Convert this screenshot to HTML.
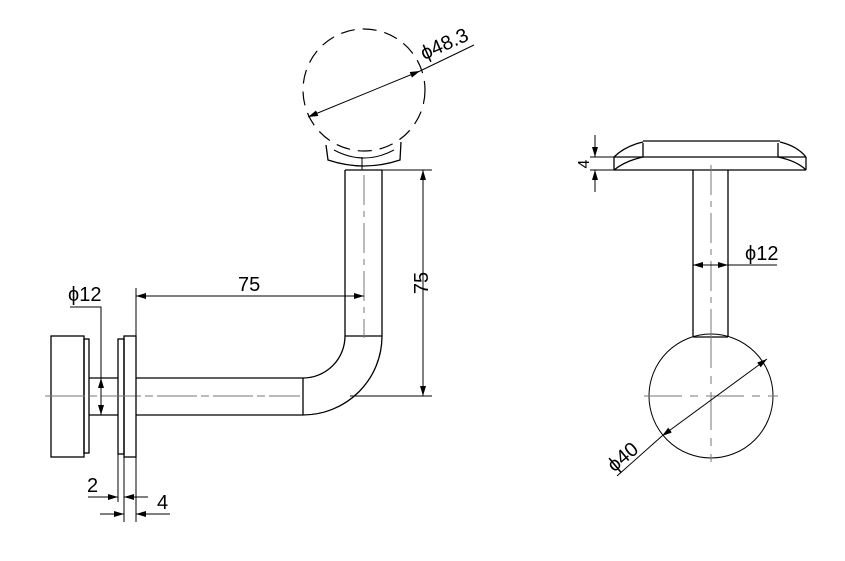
<!DOCTYPE html>
<html><head><style>body{margin:0;background:#fff}svg{display:block}</style></head><body>
<svg width="845" height="561" viewBox="0 0 845 561" xmlns="http://www.w3.org/2000/svg" font-family="Liberation Sans, sans-serif">
<defs>
<marker id="a" viewBox="0 0 10 6" refX="10" refY="3" markerWidth="10" markerHeight="6" orient="auto-start-reverse" markerUnits="userSpaceOnUse"><path d="M0,0L10,3L0,6z" fill="#000"/></marker>
</defs>
<g stroke="#000" stroke-width="1.3" fill="none">
<rect x="51" y="336" width="33" height="121"/>
<rect x="84" y="339" width="5" height="114"/>
<line x1="89" y1="378" x2="118" y2="378"/><line x1="89" y1="415" x2="118" y2="415"/>
<rect x="118" y="339" width="6" height="115"/>
<rect x="124" y="336" width="12" height="121"/>
<line x1="136" y1="378" x2="303" y2="378"/><line x1="136" y1="415" x2="303" y2="415"/>
<line x1="303" y1="378" x2="303" y2="415"/>
<path d="M303,378 A42,42 0 0 0 345,336"/>
<path d="M303,415 A79,79 0 0 0 382,336"/>
<line x1="345" y1="336" x2="382" y2="336"/>
<line x1="345" y1="170" x2="345" y2="336"/><line x1="382" y1="170" x2="382" y2="336"/>
<line x1="345" y1="170" x2="382" y2="170"/>
<path d="M326,145 L328,160 Q364,172 400,160 L401,142"/>
<path d="M334,150 Q364,166 394,150" stroke-width="1"/>
<line x1="362" y1="157" x2="362" y2="170" stroke-width="1"/>
<circle cx="364" cy="90" r="61" stroke-dasharray="14,8" stroke-width="1.2"/>
<line x1="643" y1="141" x2="780" y2="141"/>
<line x1="643" y1="143" x2="643" y2="157"/><line x1="778" y1="143" x2="778" y2="157"/>
<line x1="614" y1="157" x2="806" y2="157"/>
<line x1="614" y1="170" x2="806" y2="170"/>
<line x1="614" y1="157" x2="614" y2="170"/><line x1="806" y1="157" x2="806" y2="170"/>
<path d="M614,157 Q625,146 643,142"/><path d="M614,170 Q625,161 643,157"/>
<path d="M806,157 Q797,146 780,142"/><path d="M806,170 Q797,161 778,157"/>
<line x1="693" y1="170" x2="693" y2="337"/><line x1="728" y1="170" x2="728" y2="337"/>
<line x1="693" y1="337" x2="728" y2="337"/>
<circle cx="711" cy="396" r="62" stroke-width="1"/>
</g>
<g stroke="#777" stroke-width="1" fill="none">
<line x1="45" y1="396" x2="300" y2="396" stroke-dasharray="40,4,8,4"/>
<line x1="364" y1="175" x2="364" y2="338" stroke-dasharray="30,6,6,6"/>
<line x1="711" y1="165" x2="711" y2="335" stroke-dasharray="30,6,6,6"/>
<line x1="644" y1="396" x2="778" y2="396" stroke-dasharray="38,8,8,8"/>
<line x1="711" y1="330" x2="711" y2="462" stroke-dasharray="38,8,8,8"/>
</g>
<g stroke="#000" stroke-width="1" fill="none">
<line x1="136" y1="288" x2="136" y2="522"/>
<line x1="136" y1="296" x2="364" y2="296" marker-start="url(#a)" marker-end="url(#a)"/>
<line x1="382" y1="170" x2="432" y2="170"/><line x1="350" y1="396" x2="432" y2="396"/>
<line x1="423" y1="170" x2="423" y2="396" marker-start="url(#a)" marker-end="url(#a)"/>
<polyline points="70,307 101,307 101,378"/>
<line x1="101" y1="378" x2="101" y2="415" marker-start="url(#a)" marker-end="url(#a)"/>
<line x1="118" y1="454" x2="118" y2="502"/><line x1="124" y1="457" x2="124" y2="522"/>
<line x1="88" y1="497" x2="118" y2="497" marker-end="url(#a)"/>
<line x1="148" y1="497" x2="124" y2="497" marker-end="url(#a)"/>
<line x1="100" y1="514" x2="124" y2="514" marker-end="url(#a)"/>
<line x1="170" y1="514" x2="136" y2="514" marker-end="url(#a)"/>
<line x1="308" y1="117" x2="420" y2="71" marker-start="url(#a)" marker-end="url(#a)"/>
<line x1="420" y1="71" x2="474" y2="45"/>
<line x1="590" y1="157" x2="614" y2="157"/><line x1="590" y1="170" x2="614" y2="170"/>
<line x1="595" y1="135" x2="595" y2="157" marker-end="url(#a)"/>
<line x1="595" y1="192" x2="595" y2="170" marker-end="url(#a)"/>
<line x1="693" y1="265" x2="711" y2="265" marker-start="url(#a)"/>
<line x1="711" y1="265" x2="728" y2="265" marker-end="url(#a)"/>
<line x1="728" y1="265" x2="777" y2="265"/>
<line x1="767" y1="359" x2="662" y2="436" marker-start="url(#a)" marker-end="url(#a)"/>
<line x1="662" y1="436" x2="617" y2="476"/>
</g>
<g font-size="20" fill="#000">
<text x="238" y="291">75</text>
<text x="416" y="295" transform="rotate(-90 416 283)" text-anchor="middle">75</text>
<text x="68" y="301">ϕ12</text>
<text x="87" y="492">2</text>
<text x="157" y="509">4</text>
<text x="745" y="260">ϕ12</text>
<text x="447" y="50" transform="rotate(-24 447 50)" text-anchor="middle">ϕ48.3</text>
<text x="627" y="462" transform="rotate(-40 627 462)" text-anchor="middle">ϕ40</text>
<text x="583" y="170" transform="rotate(-90 583 164)" text-anchor="middle" font-size="16">4</text>
</g>
</svg>
</body></html>
